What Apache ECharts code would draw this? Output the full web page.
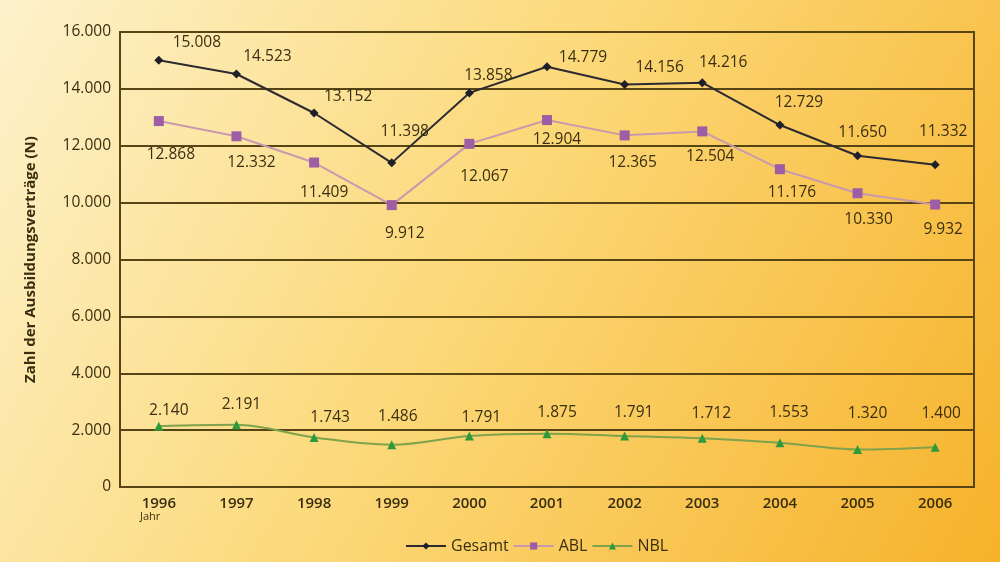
<!DOCTYPE html>
<html>
<head>
<meta charset="utf-8">
<script src="https://cdn.jsdelivr.net/npm/echarts@6/dist/echarts.min.js"></script>
<style>
html,body{margin:0;padding:0;}
#c{width:1000px;height:562px;}
</style>
</head>
<body>
<div id="c"></div>
<script>
const years = ['1996','1997','1998','1999','2000','2001','2002','2003','2004','2005','2006'];
const gesamt = [15008,14523,13152,11398,13858,14779,14156,14216,12729,11650,11332];
const abl = [12868,12332,11409,9912,12067,12904,12365,12504,11176,10330,9932];
const nbl = [2140,2191,1743,1486,1791,1875,1791,1712,1553,1320,1400];
const yTicks = [0,2000,4000,6000,8000,10000,12000,14000,16000];

// label placement (offset of label centre from its point, px)
const gesamtLabelOffsets = [[38,-18],[31,-17],[34,-16],[13,-31],[19,-17],[36,-9],[35,-17],[21,-20],[19,-22],[5,-23],[8,-33]];
const ablLabelOffsets = [[12,34],[15,26],[10,30],[13,28],[15,33],[10,20],[8,27],[8,25],[12,23],[11,26],[8,25]];
const nblLabelOffsets = [[10,-16],[5,-20],[16,-20],[6,-28],[12,-18],[10,-21],[9,-23],[9,-25],[9,-30],[10,-36],[6,-34]];

const fmt = v => String(v).replace(/\B(?=(\d{3})+(?!\d))/g, '.');
const FONT = '"Open Sans", Lato, sans-serif';
const TXT = '#3a2e10';
const LINE = '#574414';

function withLabels(values, offsets){
  return values.map((v,i)=>({
    value: v,
    label: {offset: offsets[i]}
  }));
}

const labelBase = {
  show: true,
  position: 'inside',
  align: 'center',
  verticalAlign: 'middle',
  color: TXT,
  fontFamily: FONT,
  fontSize: 15.5,
  formatter: p => fmt(p.value)
};

const chart = echarts.init(document.getElementById('c'));
chart.setOption({
  backgroundColor: {
    type: 'linear', x: 0, y: 0, x2: 1, y2: 1,
    colorStops: [
      {offset: 0, color: '#fdf2cc'},
      {offset: 0.45, color: '#fcda7c'},
      {offset: 1, color: '#f6b22a'}
    ]
  },
  animation: false,
  grid: {
    left: 120, right: 26, top: 32, bottom: 75,
    show: true, borderColor: LINE, borderWidth: 2, backgroundColor: 'transparent'
  },
  legend: {
    bottom: 3, left: 400,
    itemWidth: 40, itemHeight: 9, itemGap: 4,
    textStyle: {color: TXT, fontFamily: FONT, fontSize: 16},
    data: ['Gesamt','ABL','NBL']
  },
  graphic: [{
    type: 'text', left: 140, top: 511,
    style: {text: 'Jahr', fill: TXT, font: '11px ' + FONT}
  }],
  xAxis: {
    type: 'category',
    data: years,
    boundaryGap: true,
    axisLine: {lineStyle: {color: LINE, width: 2}},
    axisTick: {show: false},
    axisLabel: {color: TXT, fontFamily: FONT, fontSize: 15, fontWeight: 600, margin: 9}
  },
  yAxis: {
    type: 'value',
    min: yTicks[0], max: yTicks[yTicks.length-1], interval: 2000,
    name: 'Zahl der Ausbildungsverträge (N)',
    nameLocation: 'middle',
    nameGap: 82,
    nameRotate: 90,
    nameTextStyle: {color: TXT, fontFamily: FONT, fontSize: 15, fontWeight: 'bold'},
    axisLine: {show: true, lineStyle: {color: LINE, width: 2}},
    axisTick: {show: false},
    axisLabel: {color: TXT, fontFamily: FONT, fontSize: 15.5, margin: 9, formatter: v => fmt(v)},
    splitLine: {lineStyle: {color: LINE, width: 2}}
  },
  series: [
    {
      name: 'Gesamt', type: 'line',
      data: withLabels(gesamt, gesamtLabelOffsets),
      symbol: 'diamond', symbolSize: 9,
      lineStyle: {color: '#2b2a30', width: 2},
      itemStyle: {color: '#1f1f2a'},
      label: labelBase
    },
    {
      name: 'ABL', type: 'line',
      data: withLabels(abl, ablLabelOffsets),
      symbol: 'rect', symbolSize: 10,
      lineStyle: {color: '#c99aae', width: 2},
      itemStyle: {color: '#9d5ea6'},
      label: labelBase
    },
    {
      name: 'NBL', type: 'line',
      data: withLabels(nbl, nblLabelOffsets),
      symbol: 'triangle', symbolSize: 9,
      smooth: 0.35,
      lineStyle: {color: '#7fa24a', width: 2},
      itemStyle: {color: '#2f9a3c'},
      label: labelBase
    }
  ]
});
</script>
</body>
</html>
